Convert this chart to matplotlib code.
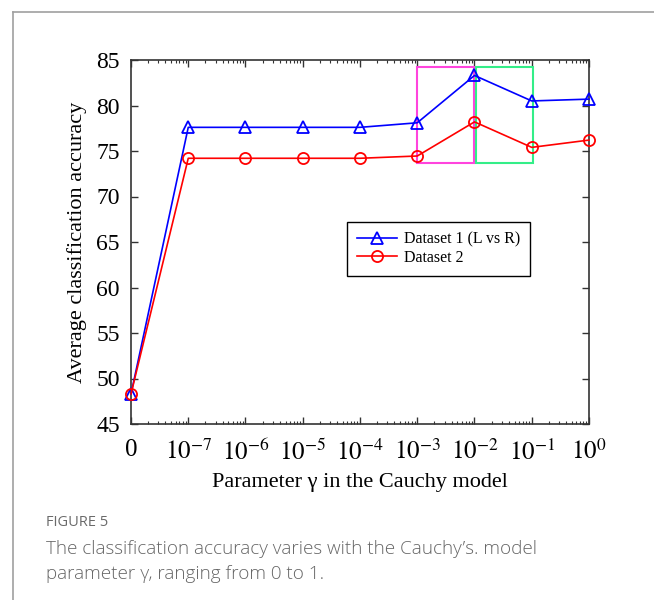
import numpy as np
import matplotlib
matplotlib.use("Agg")
import matplotlib.pyplot as plt
from matplotlib.patches import Rectangle
from matplotlib.lines import Line2D

# Gamma settings (0 followed by decades 1e-7 .. 1e0)
gamma_labels = ["0", r"$10^{-7}$", r"$10^{-6}$", r"$10^{-5}$", r"$10^{-4}$",
                r"$10^{-3}$", r"$10^{-2}$", r"$10^{-1}$", r"$10^{0}$"]
dataset1_acc = [48.3, 77.6, 77.6, 77.6, 77.6, 78.1, 83.3, 80.5, 80.7]
dataset2_acc = [48.3, 74.2, 74.2, 74.2, 74.2, 74.45, 78.2, 75.4, 76.2]
series_names = ["Dataset 1 (L vs R)", "Dataset 2"]
y_ticks = [45, 50, 55, 60, 65, 70, 75, 80, 85]

plt.rcParams["mathtext.fontset"] = "stix"
serif = ["Liberation Serif", "DejaVu Serif"]

fig = plt.figure(figsize=(6.54, 6.0), dpi=100)
ax = fig.add_axes([131 / 654, 1 - 424 / 600, 458 / 654, 364 / 600])

x = np.arange(len(gamma_labels))
ax.plot(x, dataset1_acc, color="#0000ff", lw=1.2, marker="^", ms=8,
        mfc="none", mec="#0000ff", mew=1.3, label=series_names[0],
        zorder=3, clip_on=False)
ax.plot(x, dataset2_acc, color="#ff0000", lw=1.2, marker="o", ms=8,
        mfc="none", mec="#ff0000", mew=1.3, label=series_names[1],
        zorder=3, clip_on=False)

# highlight boxes around the peak region
ax.add_patch(Rectangle((5.0, 73.65), 1.0, 10.55, fill=False,
                       edgecolor="#ff44dd", lw=1.5, zorder=2))
ax.add_patch(Rectangle((6.03, 73.65), 0.99, 10.55, fill=False,
                       edgecolor="#33ee88", lw=1.5, zorder=2))

ax.set_xlim(0, 8)
ax.set_ylim(45, 85)
ax.set_xticks(x)
ax.set_xticklabels(gamma_labels)
minor = [i - 1 + np.log10(k) for i in range(1, 9) for k in range(2, 10)]
ax.set_xticks(minor, minor=True)
ax.set_yticks(y_ticks)

for s in ax.spines.values():
    s.set_color("#333333")
    s.set_linewidth(1.2)

ax.tick_params(axis="both", which="major", direction="in", length=5,
               width=1, color="#333333", top=True, right=True,
               labelsize=17, pad=8)
ax.tick_params(axis="x", which="major", pad=11)
ax.tick_params(axis="x", which="minor", direction="in", length=2.5,
               width=0.8, color="#333333", top=True)
for lab in ax.get_yticklabels():
    lab.set_fontfamily(serif)
for lab in ax.get_xticklabels():
    lab.set_fontfamily(serif)
    lab.set_fontsize(18)

ax.set_xlabel("Parameter γ in the Cauchy model", fontsize=16,
              family=serif, labelpad=6)
ax.set_ylabel("Average classification accuracy", fontsize=16,
              family=serif, labelpad=7)

leg = ax.legend(loc="upper left", bbox_to_anchor=(0.4716, 0.555),
                borderaxespad=0, fancybox=False, edgecolor="black",
                framealpha=1, prop={"family": serif, "size": 11.5},
                handlelength=2.5, handletextpad=0.45, borderpad=0.6,
                labelspacing=0.15)
leg.get_frame().set_linewidth(1.0)

# surrounding panel frame
fig.add_artist(Line2D([12.5 / 654, 12.5 / 654], [0, 1 - 11.5 / 600],
                      transform=fig.transFigure, color="#a0a0a0", lw=1.2))
fig.add_artist(Line2D([12.5 / 654, 1], [1 - 11.5 / 600, 1 - 11.5 / 600],
                      transform=fig.transFigure, color="#a0a0a0", lw=1.2))

cap_font = ["Open Sans", "DejaVu Sans"]
fig.text(46 / 654, 1 - 523 / 600, "FIGURE 5", fontsize=10.5, color="#6a6a6a",
         family=cap_font, va="center", ha="left")
fig.text(46 / 654, 1 - 549 / 600,
         "The classification accuracy varies with the Cauchy’s. model",
         fontsize=13.6, color="#666666", family=cap_font, va="center",
         ha="left", fontweight="light")
fig.text(46 / 654, 1 - 574 / 600, "parameter γ, ranging from 0 to 1.",
         fontsize=13.6, color="#666666", family=cap_font, va="center",
         ha="left", fontweight="light")

fig.savefig("out.png", dpi=100)
